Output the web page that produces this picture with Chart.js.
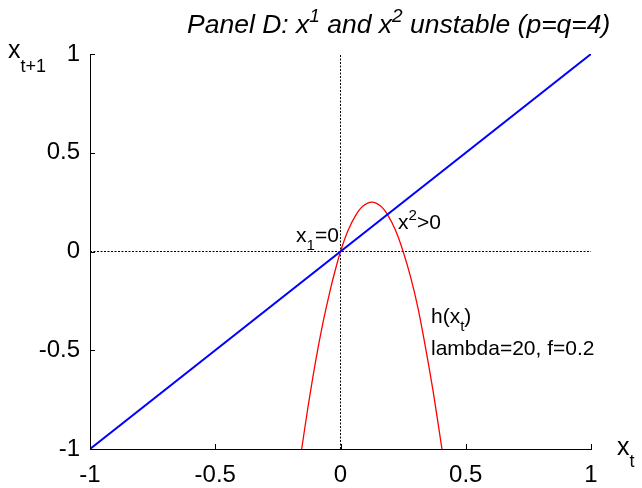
<!DOCTYPE html>
<html>
<head>
<meta charset="utf-8">
<script src="https://cdn.jsdelivr.net/npm/chart.js@4/dist/chart.umd.min.js"></script>
<style>
  body { margin: 0; background: #fff; }
  #wrap { width: 642px; height: 488px; }
</style>
</head>
<body>
<div id="wrap"><canvas id="chartPanelD" width="642" height="488"></canvas></div>
<script>
// valores
const xTicks = [-1, -0.5, 0, 0.5, 1];
const yTicks = [-1, -0.5, 0, 0.5, 1];

const lineaX = [-1, 1];
const lineaY = [-1, 1];

const hX = [-0.155, -0.13, -0.1, -0.07, -0.04, -0.02, 0, 0.03, 0.06, 0.09, 0.125,
            0.16, 0.19, 0.22, 0.25, 0.28, 0.31, 0.34, 0.37, 0.405];
const hY = [-1.0, -0.79, -0.56, -0.36, -0.19, -0.09, 0, 0.106, 0.182, 0.23, 0.25,
            0.23, 0.182, 0.106, 0, -0.13, -0.29, -0.49, -0.71, -1.0];

const fuente = "'Liberation Sans', Arial, sans-serif";

function toPoints(xs, ys) {
    return xs.map((x, i) => ({ x: x, y: ys[i] }));
}

// texto con sub/superindices: partes [{t, sub, sup}]
function drawRich(ctx, x, y, parts, size, italic, subDy) {
    let cx = x;
    parts.forEach(p => {
        const s = (p.sub || p.sup) ? size * 0.72 : size;
        ctx.font = (italic ? "italic " : "") + s + "px " + fuente;
        let dy = 0;
        if (p.sub) dy = subDy || size * 0.4;
        if (p.sup) dy = -size * 0.42;
        ctx.fillText(p.t, cx, y + dy);
        cx += ctx.measureText(p.t).width;
    });
}

const textosPlugin = {
    id: "textos",
    afterDraw(chart) {
        const ctx = chart.ctx;
        const sx = chart.scales.x;
        const sy = chart.scales.y;
        ctx.save();
        ctx.fillStyle = "#000";
        ctx.textAlign = "left";
        ctx.textBaseline = "alphabetic";

        // marcas de los ejes hacia dentro
        ctx.strokeStyle = "#000";
        ctx.lineWidth = 1;
        ctx.beginPath();
        xTicks.forEach(v => {
            const px = Math.round(sx.getPixelForValue(v)) + 0.5;
            ctx.moveTo(px, sy.bottom);
            ctx.lineTo(px, sy.bottom - 5);
        });
        yTicks.forEach(v => {
            const py = Math.round(sy.getPixelForValue(v)) + 0.5;
            ctx.moveTo(sx.left, py);
            ctx.lineTo(sx.left + 5, py);
        });
        ctx.stroke();

        drawRich(ctx, 187, 33, [
            { t: "Panel D: x" }, { t: "1", sup: true }, { t: " and x" }, { t: "2", sup: true },
            { t: " unstable (p=q=4)" }
        ], 26.5, true);

        drawRich(ctx, 8, 58, [{ t: "x" }, { t: "t+1", sub: true }], 25, false, 14);
        drawRich(ctx, 617, 455, [{ t: "x" }, { t: "t", sub: true }], 25, false, 12);

        drawRich(ctx, 296, 242, [{ t: "x" }, { t: "1", sub: true }, { t: "=0" }], 21, false);
        drawRich(ctx, 398, 229, [{ t: "x" }, { t: "2", sup: true }, { t: ">0" }], 21, false);
        drawRich(ctx, 431, 323, [{ t: "h(x" }, { t: "t", sub: true }, { t: ")" }], 21, false);
        drawRich(ctx, 431, 355, [{ t: "lambda=20, f=0.2" }], 21, false);
        ctx.restore();
    }
};

document.addEventListener("DOMContentLoaded", () => {
    const ctx = document.getElementById("chartPanelD");

    new Chart(ctx, {
        type: "scatter",
        data: {
            datasets: [
                {
                    label: "eje y",
                    data: toPoints([0, 0], lineaY),
                    showLine: true,
                    borderColor: "#000",
                    borderWidth: 1,
                    borderDash: [2, 1.5],
                    pointRadius: 0,
                    order: 5
                },
                {
                    label: "eje x",
                    data: toPoints(lineaX, [0, 0]),
                    showLine: true,
                    borderColor: "#000",
                    borderWidth: 1,
                    borderDash: [2, 1.5],
                    pointRadius: 0,
                    order: 4
                },
                {
                    label: "h(x)",
                    data: toPoints(hX, hY),
                    showLine: true,
                    borderColor: "#ff0000",
                    borderWidth: 1.3,
                    pointRadius: 0,
                    tension: 0.3,
                    order: 2
                },
                {
                    label: "45 grados",
                    data: toPoints(lineaX, lineaY),
                    showLine: true,
                    borderColor: "#0000ff",
                    borderWidth: 2,
                    pointRadius: 0,
                    order: 1
                }
            ]
        },
        options: {
            responsive: false,
            animation: false,
            layout: { padding: { left: 0, top: 54, right: 51, bottom: 0 } },
            plugins: {
                legend: { display: false },
                tooltip: { enabled: false }
            },
            scales: {
                x: {
                    type: "linear",
                    min: -1,
                    max: 1,
                    afterFit: s => { s.height = 39; },
                    afterBuildTicks: s => { s.ticks = xTicks.map(v => ({ value: v })); },
                    grid: { display: false, drawTicks: false },
                    border: { display: true, color: "#000", width: 1 },
                    ticks: {
                        color: "#000",
                        padding: 12,
                        font: { family: fuente, size: 24 },
                        callback: v => String(v)
                    }
                },
                y: {
                    type: "linear",
                    min: -1,
                    max: 1,
                    afterFit: s => { s.width = 90; },
                    afterBuildTicks: s => { s.ticks = yTicks.map(v => ({ value: v })); },
                    grid: { display: false, drawTicks: false },
                    border: { display: true, color: "#000", width: 1 },
                    ticks: {
                        color: "#000",
                        padding: 10,
                        font: { family: fuente, size: 24 },
                        callback: v => String(v)
                    }
                }
            }
        },
        plugins: [textosPlugin]
    });
});
</script>
</body>
</html>
